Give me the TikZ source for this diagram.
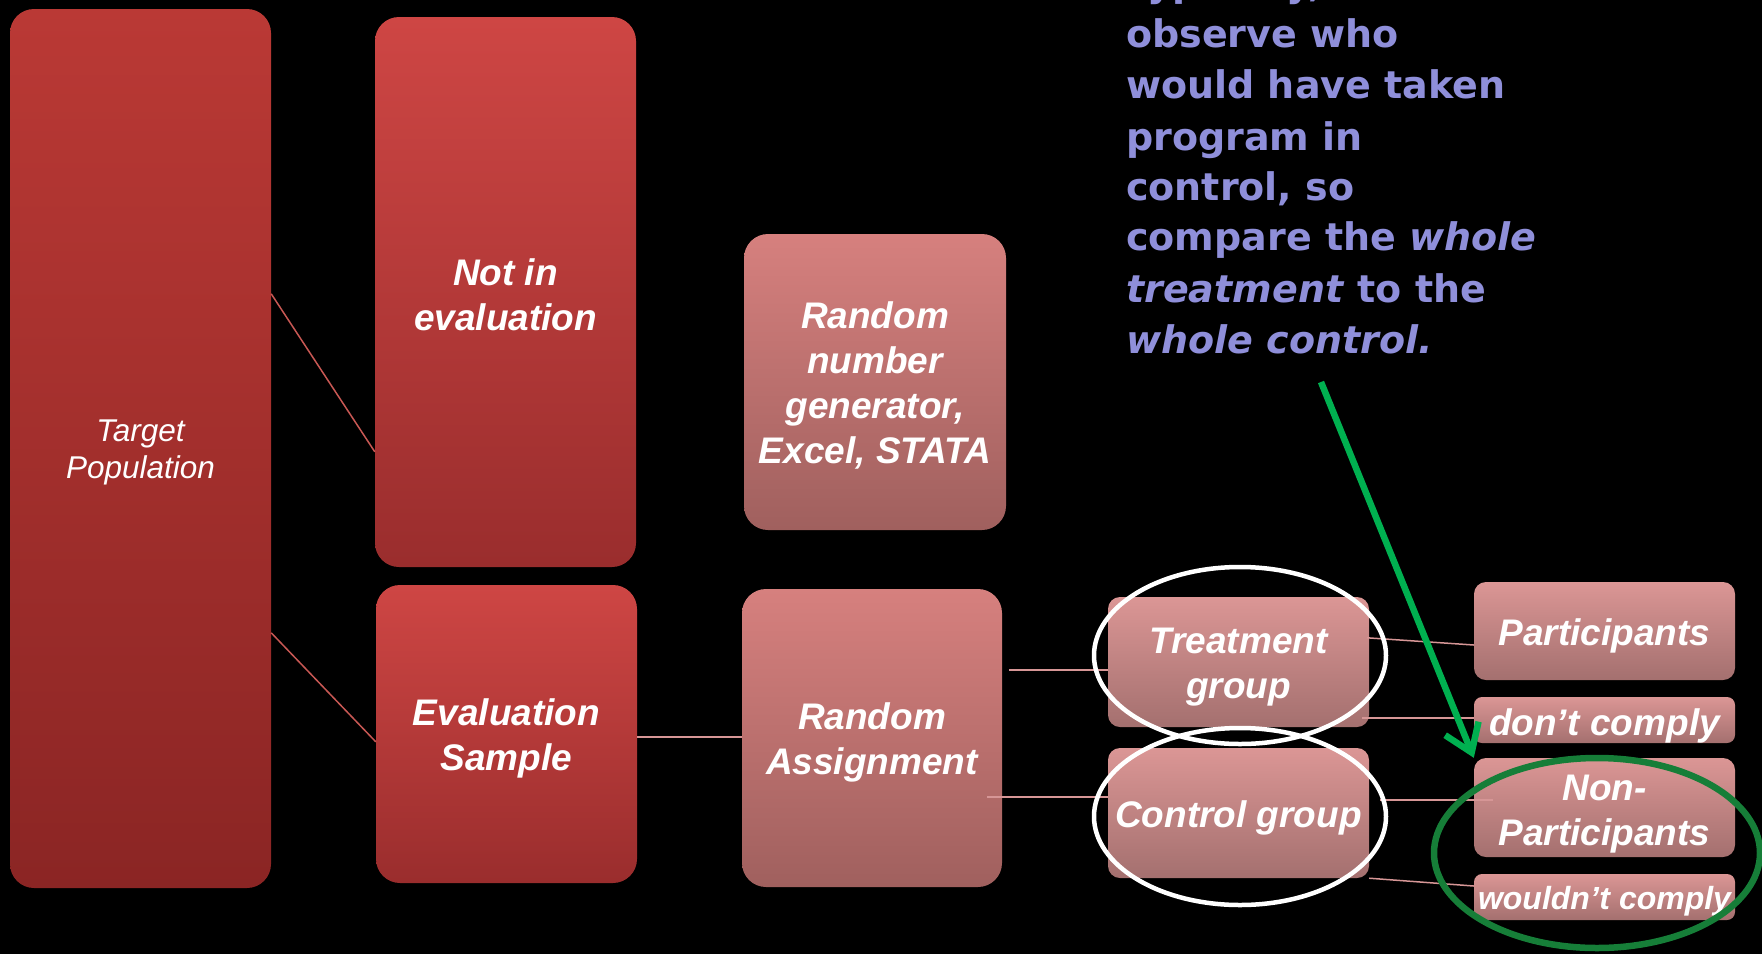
\documentclass[tikz,border=0pt]{standalone}
\usepackage{fontspec}
\setmainfont{Liberation Sans}
\newfontfamily\dvfont{DejaVu Sans}
\usetikzlibrary{arrows.meta,calc}
\definecolor{tpTop}{RGB}{186,57,53}
\definecolor{tpBot}{RGB}{139,37,36}
\definecolor{neTop}{RGB}{206,70,68}
\definecolor{neBot}{RGB}{154,45,45}
\definecolor{rnTop}{RGB}{214,128,126}
\definecolor{rnBot}{RGB}{160,96,94}
\definecolor{smTop}{RGB}{219,150,149}
\definecolor{smBot}{RGB}{164,112,111}
\definecolor{lineA}{RGB}{200,88,84}
\definecolor{lineB}{RGB}{214,150,150}
\definecolor{noteC}{RGB}{143,143,218}
\definecolor{gArrow}{RGB}{0,176,80}
\definecolor{gRing}{RGB}{22,126,56}
\tikzset{
  box/.style={rectangle, rounded corners=24pt, inner sep=0pt},
  smallbox/.style={box, rounded corners=12pt},
  txt/.style={inner sep=0pt, align=center, text=white,
    font=\fontsize{37}{45}\selectfont\bfseries\itshape},
  note/.style={inner sep=0pt, text=noteC, font=\dvfont\fontsize{38}{51}\selectfont\bfseries},
  linkA/.style={draw=lineA, line width=1.5pt},
  linkB/.style={draw=lineB, line width=1.5pt},
  ring/.style={draw=white, line width=4.5pt},
  garrow/.style={draw=gArrow, line width=6.5pt, -{Straight Barb[length=26pt,width=36pt]}},
}
\begin{document}
\begin{tikzpicture}[x=1pt,y=-1pt]
\fill[black] (0,0) rectangle (1762,954);
\useasboundingbox (0,0) rectangle (1762,954);
\clip (0,0) rectangle (1762,954);

% boxes
\node[box, top color=tpTop, bottom color=tpBot, minimum width=261pt, minimum height=879pt] (tp) at (140.5,448.5) {};
\node[box, top color=neTop, bottom color=neBot, minimum width=261pt, minimum height=550pt] (ne) at (505.5,292) {};
\node[box, top color=neTop, bottom color=neBot, minimum width=261pt, minimum height=298pt] (es) at (506.5,734) {};
\node[box, top color=rnTop, bottom color=rnBot, minimum width=262pt, minimum height=296pt] (rng) at (875,382) {};
\node[box, top color=rnTop, bottom color=rnBot, minimum width=260pt, minimum height=298pt] (ra) at (872,738) {};
\node[smallbox, top color=smTop, bottom color=smBot, minimum width=261pt, minimum height=130pt] (tg) at (1238.5,662) {};
\node[smallbox, top color=smTop, bottom color=smBot, minimum width=261pt, minimum height=130pt] (cg) at (1238.5,813) {};
\node[smallbox, top color=smTop, bottom color=smBot, minimum width=261pt, minimum height=98pt] (pa) at (1604.5,631) {};
\node[smallbox, rounded corners=8pt, top color=smTop, bottom color=smBot, minimum width=261pt, minimum height=46pt] (dc) at (1604.5,720) {};
\node[smallbox, top color=smTop, bottom color=smBot, minimum width=261pt, minimum height=99pt] (np) at (1604.5,807.5) {};
\node[smallbox, rounded corners=8pt, top color=smTop, bottom color=smBot, minimum width=261pt, minimum height=46pt] (wc) at (1604.5,897) {};

% box texts
\node[txt, font=\fontsize{31.5}{37}\selectfont\itshape] (tpT) at ($(tp)+(0,4)$) {Target\\Population};
\node[txt] (neT) at ($(ne)+(0,2.5)$) {Not in\\evaluation};
\node[txt] (esT) at ($(es)+(0,4.5)$) {Evaluation\\Sample};
\node[txt] (rngT) at ($(rng)+(0,3.5)$) {Random\\number\\generator,\\Excel, STATA};
\node[txt] (raT) at ($(ra)+(0,4)$) {Random\\Assignment};
\node[txt] (tgT) at ($(tg)+(0,5)$) {Treatment\\group};
\node[txt] (cgT) at ($(cg)+(0,4.5)$) {Control group};
\node[txt] (paT) at ($(pa)+(0,4.5)$) {Participants};
\node[txt] (dcT) at ($(dc)+(0,5.5)$) {don’t comply};
\node[txt] (npT) at ($(np)+(0,7)$) {Non-\\Participants};
\node[txt, font=\fontsize{32}{38}\selectfont\bfseries\itshape] (wcT) at ($(wc)+(0,4)$) {wouldn’t comply};

% connectors
\draw[linkA] ($(tp.north east)+(0,285)$) -- ($(ne.north west)+(0,435)$);
\draw[linkA] ($(tp.north east)+(0,624)$) -- ($(es.north west)+(0,157)$);
\draw[linkB] ($(es.east)+(0,3)$) coordinate (e1) -- (e1 -| ra.west);
\draw[linkB] ($(ra.north east)+(7,81)$) coordinate (r1) -- (r1 -| tg.west);
\draw[linkB] ($(ra.north east)+(-15,208)$) coordinate (r2) -- (r2 -| cg.west);
\draw[linkB] ($(tg.north east)+(-2,41)$) -- ($(pa.west)+(0,14)$);
\draw[linkB] ($(tg.north east)+(-7,121)$) coordinate (t1c) -- (t1c -| dc.west);
\draw[linkB] ($(cg.north east)+(11,52)$) coordinate (c1) -- ($(c1 -| np.west)+(19,0)$);
\draw[linkB] (cg.south east) -- ($(wc.west)+(0,-11)$);

% white rings
\draw[ring] (1240,655.5) ellipse [x radius=146pt, y radius=88.5pt];
\draw[ring] (1240,816.5) ellipse [x radius=146pt, y radius=88.5pt];

% note text
\node[note, anchor=base west] (n0) at (1126,-4) {Typically,};
\node[note, anchor=base west] (n1) at (1126,47) {observe who};
\node[note, anchor=base west] (n2) at (1126,98) {would have taken};
\node[note, anchor=base west] (n3) at (1126,150) {program in};
\node[note, anchor=base west] (n4) at (1126,200) {control, so};
\node[note, anchor=base west] (n5) at (1126,250) {compare the \textit{whole}};
\node[note, anchor=base west] (n6) at (1126,302) {\textit{treatment} to the};
\node[note, anchor=base west] (n7) at (1126,353) {\textit{whole control.}};

% green arrow and ring
\coordinate (gstart) at (1321,382);
\draw[garrow] (gstart) -- (np.north west);
\draw[draw=gRing, line width=6.5pt] (1597,853) ellipse [x radius=163pt, y radius=95pt];
\end{tikzpicture}
\end{document}
